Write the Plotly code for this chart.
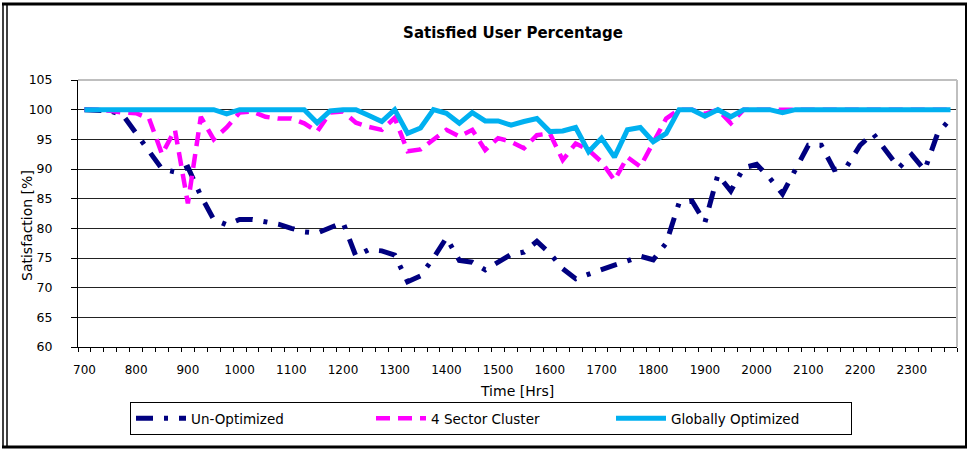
import plotly.graph_objects as go


times = [
    700, 715, 730, 745, 800, 815, 830, 845, 900, 915, 930, 945,
    1000, 1015, 1030, 1045, 1100, 1115, 1130, 1145, 1200, 1215, 1230, 1245,
    1300, 1315, 1330, 1345, 1400, 1415, 1430, 1445, 1500, 1515, 1530, 1545,
    1600, 1615, 1630, 1645, 1700, 1715, 1730, 1745, 1800, 1815, 1830, 1845,
    1900, 1915, 1930, 1945, 2000, 2015, 2030, 2045, 2100, 2115, 2130, 2145,
    2200, 2215, 2230, 2245, 2300, 2315, 2330, 2345
]

tick_labels = [
    "700", "800", "900", "1000", "1100", "1200", "1300", "1400", "1500",
    "1600", "1700", "1800", "1900", "2000", "2100", "2200", "2300"
]

un_optimized = [
    100, 100, 99.8, 99, 96, 93, 90, 89.5, 90.3, 85.5,
    81.5, 80.6, 81.5, 81.5, 81.2, 80.7, 80.0, 79.4, 79.2, 80.2,
    81.0, 75.3, 76.4, 76.2, 75.5, 71.0, 72.0, 75.0, 78.4, 74.6,
    74.3, 73.0, 74.4, 75.6, 76.0, 77.8, 75.8, 73.2, 71.5, 72.3,
    73.2, 73.8, 74.5, 75.3, 74.7, 77.5, 84.3, 84.6, 81.0, 89.0,
    86.3, 90.2, 90.8, 88.5, 85.8, 89.9, 94.0, 94.0, 89.9, 90.5,
    94.0, 96.0, 93.0, 90.2, 92.4, 89.8, 96.0, 98.5
]

sector_cluster = [
    100, 100, 99.8, 99.5, 99.4, 98.5, 92.5, 96.6, 84.2, 98.8,
    95.0, 97.0, 99.5, 99.7, 98.8, 98.5, 98.5, 97.7, 96.3, 99.5,
    99.7, 97.8, 97.1, 96.6, 98.6, 93.0, 93.3, 94.9, 96.6, 95.5,
    96.6, 93.2, 95.2, 94.6, 93.5, 95.7, 96.0, 91.5, 94.3, 93.2,
    91.2, 88.1, 92.0, 90.4, 94.6, 98.5, 100, 100, 99.3, 100,
    97.7, 100, 100, 100, 100, 100, 100, 100, 100, 100,
    100, 100, 100, 100, 100, 100, 100, 100
]

globally_optimized = [
    100, 100, 99.8, 99.8, 100, 100, 100, 100, 100, 100,
    100, 99.3, 100, 100, 100, 100, 100, 100, 97.8, 99.8,
    100, 100, 99.0, 98.0, 100, 96.0, 96.9, 100, 99.4, 97.7,
    99.5, 98.1, 98.1, 97.4, 98.0, 98.5, 96.3, 96.4, 97.0, 92.9,
    95.2, 92.0, 96.6, 97.0, 94.6, 96.0, 100, 100, 98.9, 100,
    98.8, 100, 100, 100, 99.5, 100, 100, 100, 100, 100,
    100, 100, 100, 100, 100, 100, 100, 100
]


W, H = 969, 450
L, R, T, B = 78, 12, 80, 103
PW, PH = W - L - R, H - T - B


def px_x(p):
    return (p - L) / PW


def px_y(p):
    return (H - B - p) / PH


cats = [str(t) for t in times]
tick_text = [c if c in tick_labels else "" for c in cats]

FONT = "DejaVu Sans"

fig = go.Figure()

fig.add_trace(go.Scatter(
    x=cats, y=un_optimized, name="Un-Optimized", mode="lines",
    line=dict(color="#000080", width=5, dash="17px,11px,4px,11px")
))

fig.add_trace(go.Scatter(
    x=cats, y=sector_cluster, name="4 Sector Cluster", mode="lines",
    line=dict(color="#FF00FF", width=4.5, dash="14px,8px")
))

fig.add_trace(go.Scatter(
    x=cats, y=globally_optimized, name="Globally Optimized", mode="lines",
    line=dict(color="#00B0F0", width=5)
))

fig.update_layout(
    width=W,
    height=H,
    margin=dict(l=L, r=R, t=T, b=B, autoexpand=False),
    paper_bgcolor="white",
    plot_bgcolor="white",
    font=dict(family=FONT, size=12, color="black"),
    title=dict(
        text="<b>Satisfied User Percentage</b>",
        x=513 / W, xanchor="center",
        y=1 - 33 / H, yanchor="middle",
        font=dict(family=FONT, size=15, color="black")
    ),
    showlegend=True,
    legend=dict(
        orientation="h",
        x=px_x(130), xanchor="left",
        y=px_y(402), yanchor="top",
        bordercolor="black", borderwidth=1,
        font=dict(family=FONT, size=13.5, color="black"),
        itemwidth=50,
        entrywidth=175,
        traceorder="normal"
    ),
    xaxis=dict(
        type="category",
        range=[-0.5, len(cats) - 0.5],
        tickmode="array",
        tickvals=cats,
        ticktext=tick_text,
        tickangle=0,
        tickson="boundaries",
        ticks="outside",
        ticklen=4,
        tickcolor="black",
        showline=True,
        linecolor="black",
        linewidth=1,
        showgrid=False,
        automargin=False,
        ticklabelstandoff=12,
        tickfont=dict(family=FONT, size=12, color="black")
    ),
    yaxis=dict(
        range=[60, 105],
        dtick=5,
        ticks="outside",
        ticklen=6,
        tickcolor="black",
        showline=True,
        linecolor="black",
        linewidth=1,
        showgrid=True,
        gridcolor="#222222",
        gridwidth=1,
        zeroline=False,
        automargin=False,
        ticklabelstandoff=16,
        tickfont=dict(family=FONT, size=12.5, color="black")
    ),
    annotations=[
        dict(
            text="Satisfaction [%]", xref="paper", yref="paper",
            x=px_x(27), y=px_y(226), textangle=-90, showarrow=False,
            xanchor="center", yanchor="middle",
            font=dict(family=FONT, size=14, color="black")
        ),
        dict(
            text="Time [Hrs]", xref="paper", yref="paper",
            x=px_x(517), y=px_y(391), showarrow=False,
            xanchor="center", yanchor="middle",
            font=dict(family=FONT, size=14, color="black")
        )
    ],
    shapes=[
        # plot area border, top and right
        dict(type="line", xref="paper", yref="paper", x0=0, x1=1, y0=1, y1=1,
             line=dict(color="#BFBFBF", width=2), layer="above"),
        dict(type="line", xref="paper", yref="paper", x0=1, x1=1, y0=0, y1=1,
             line=dict(color="#BFBFBF", width=2), layer="above"),
        # outer chart frame
        dict(type="line", xref="paper", yref="paper",
             x0=px_x(2), x1=px_x(967), y0=px_y(4), y1=px_y(4),
             line=dict(color="black", width=3)),
        dict(type="line", xref="paper", yref="paper",
             x0=px_x(2), x1=px_x(967), y0=px_y(447), y1=px_y(447),
             line=dict(color="black", width=3)),
        dict(type="line", xref="paper", yref="paper",
             x0=px_x(3), x1=px_x(3), y0=px_y(4), y1=px_y(447),
             line=dict(color="black", width=1.5)),
        dict(type="line", xref="paper", yref="paper",
             x0=px_x(7), x1=px_x(7), y0=px_y(4), y1=px_y(447),
             line=dict(color="black", width=1.5)),
        dict(type="line", xref="paper", yref="paper",
             x0=px_x(966), x1=px_x(966), y0=px_y(4), y1=px_y(447),
             line=dict(color="black", width=2))
    ]
)

# page body has an 8px default margin; drop it so the chart sits at 0,0
fig.write_html(
    "out.html",
    config={"displayModeBar": False},
    post_script="document.body.style.margin = '0px';"
)
